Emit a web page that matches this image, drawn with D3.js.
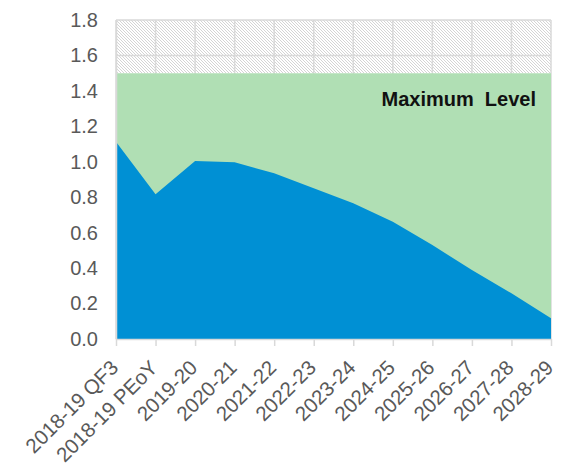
<!DOCTYPE html>
<html>
<head>
<meta charset="utf-8">
<script src="https://cdn.jsdelivr.net/npm/d3@7"></script>
<style>
  body { margin: 0; background: #fff; }
  text { font-family: "Liberation Sans", Arial, sans-serif; }
</style>
</head>
<body>
<div id="chart"></div>
<script>
var categories = ["2018-19 QF3", "2018-19 PEoY", "2019-20", "2020-21", "2021-22", "2022-23",
                  "2023-24", "2024-25", "2025-26", "2026-27", "2027-28", "2028-29"];
var level = [1.113, 0.817, 1.005, 0.997, 0.935, 0.850, 0.766, 0.662, 0.530, 0.389, 0.258, 0.117];
var maxLevel = 1.5;
var yMax = 1.8;
var yTicks = [0, 0.2, 0.4, 0.6, 0.8, 1.0, 1.2, 1.4, 1.6, 1.8];

var width = 567, height = 472;
var margin = {t: 20, r: 16, b: 133, l: 116};

var svg = d3.select("#chart").append("svg")
    .attr("width", width)
    .attr("height", height);

var x = d3.scalePoint()
    .domain(categories)
    .range([margin.l, width - margin.r]);

var y = d3.scaleLinear()
    .domain([0, yMax])
    .range([height - margin.b, margin.t]);

// hatch pattern for the band above the maximum
var defs = svg.append("defs");
var pat = defs.append("pattern")
    .attr("id", "hatch")
    .attr("patternUnits", "userSpaceOnUse")
    .attr("width", 3).attr("height", 3);
pat.append("rect").attr("width", 3).attr("height", 3).attr("fill", "#fff");
pat.append("path")
    .attr("d", "M-1,-1 L4,4 M-1,2 L1,4 M2,-1 L4,1")
    .attr("stroke", "#c6c6c6")
    .attr("stroke-width", 0.75);

svg.append("rect")
    .attr("x", x(categories[0]))
    .attr("y", y(yMax))
    .attr("width", x(categories[categories.length - 1]) - x(categories[0]))
    .attr("height", y(maxLevel) - y(yMax))
    .attr("fill", "url(#hatch)");

// gridlines
svg.append("g").selectAll("line.h")
    .data(yTicks.filter(function(d) { return d > 0; }))
    .enter().append("line")
    .attr("x1", x(categories[0])).attr("x2", x(categories[categories.length - 1]))
    .attr("y1", function(d) { return y(d); }).attr("y2", function(d) { return y(d); })
    .attr("stroke", "#d9d9d9").attr("stroke-width", 1.5);

svg.append("g").selectAll("line.v")
    .data(categories)
    .enter().append("line")
    .attr("x1", function(d) { return x(d); }).attr("x2", function(d) { return x(d); })
    .attr("y1", y(yMax)).attr("y2", y(0))
    .attr("stroke", "#d9d9d9").attr("stroke-width", 1.5);

// maximum level area
var green = d3.area()
    .x(function(d) { return x(d); })
    .y0(y(0))
    .y1(y(maxLevel));
svg.append("path")
    .datum(categories)
    .attr("d", green)
    .attr("fill", "#b0dfb4");

// level area
var blue = d3.area()
    .x(function(d, i) { return x(categories[i]); })
    .y0(y(0))
    .y1(function(d) { return y(d); });
svg.append("path")
    .datum(level)
    .attr("d", blue)
    .attr("fill", "#0090d4");

// axes
var yAxis = svg.append("g")
    .attr("transform", "translate(" + margin.l + ",0)")
    .call(d3.axisLeft(y).tickValues(yTicks).tickFormat(d3.format(".1f")).tickSize(0).tickPadding(18));
yAxis.select(".domain").attr("stroke", "#d9d9d9").attr("stroke-width", 1.5);
yAxis.selectAll("text").attr("font-size", 20).attr("fill", "#595959");

var xAxis = svg.append("g")
    .attr("transform", "translate(0," + y(0) + ")")
    .call(d3.axisBottom(x).tickSize(7).tickSizeOuter(0));
xAxis.select(".domain").attr("stroke", "#d9d9d9").attr("stroke-width", 1.5);
xAxis.selectAll("line").attr("stroke", "#d9d9d9").attr("stroke-width", 1.5);
xAxis.selectAll("text")
    .attr("font-size", 20.5)
    .attr("fill", "#595959")
    .attr("text-anchor", "end")
    .attr("dy", 0)
    .attr("y", 0)
    .attr("transform", "translate(3,30) rotate(-45)");

svg.append("text")
    .attr("x", 536)
    .attr("y", 106)
    .attr("text-anchor", "end")
    .attr("font-size", 20)
    .attr("font-weight", "bold")
    .attr("fill", "#111")
    .style("white-space", "pre")
    .text("Maximum  Level");
</script>
</body>
</html>
